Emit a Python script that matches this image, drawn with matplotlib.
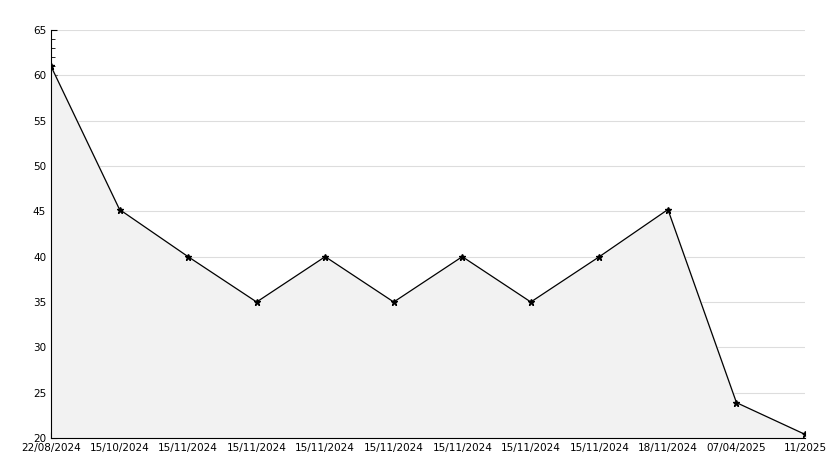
import matplotlib
matplotlib.use("Agg")
import matplotlib.pyplot as plt
from matplotlib.ticker import MultipleLocator

labels = ["22/08/2024","15/10/2024","15/11/2024","15/11/2024","15/11/2024","15/11/2024",
          "15/11/2024","15/11/2024","15/11/2024","18/11/2024","07/04/2025","11/2025"]
values = [61, 45.2, 40, 35, 40, 35, 40, 35, 40, 45.2, 23.9, 20.4]

fig = plt.figure(figsize=(8.34, 4.68), dpi=100)
ax = fig.add_axes([51/834, 30/468, 754/834, 408/468])
x = list(range(len(values)))
ax.fill_between(x, values, 20, color="#f2f2f2")
ax.plot(x, values, color="black", lw=0.9, marker="*", ms=5)
ax.set_xlim(0, len(values)-1)
ax.set_ylim(20, 65)
ax.set_xticks(x)
ax.set_xticklabels(labels)
ax.yaxis.set_major_locator(MultipleLocator(5))
ax.yaxis.set_minor_locator(MultipleLocator(1))
ax.grid(axis="y", color="#dddddd", lw=0.8)
ax.set_axisbelow(True)
for s in ["top", "right"]:
    ax.spines[s].set_visible(False)
ax.tick_params(labelsize=7.5, length=4, direction="in")
ax.tick_params(axis="y", which="minor", length=3, direction="in")
fig.savefig("out.png", dpi=100)
